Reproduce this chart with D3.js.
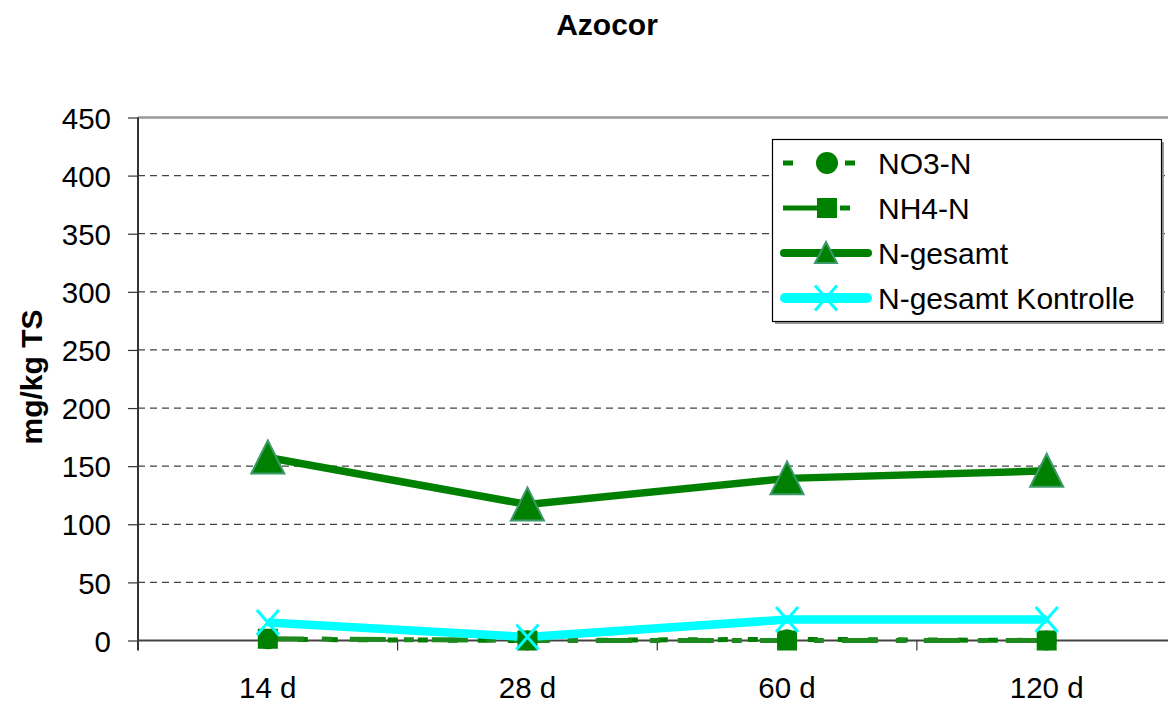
<!DOCTYPE html>
<html><head><meta charset="utf-8">
<script src="https://cdn.jsdelivr.net/npm/d3@7"></script>
<style>body{margin:0;background:#fff;} svg{display:block;font-family:"Liberation Sans",Arial,sans-serif;}</style>
</head><body>
<svg id="c" width="1168" height="704"></svg>
<script>
const categories = ["14 d", "28 d", "60 d", "120 d"];
const no3 = [1, 0, 1, 0];
const nh4 = [1.5, 0, 0, 0];
const nges = [157.5, 117, 139.5, 146];
const nkon = [15.5, 3, 18, 18];
const yTicks = [0, 50, 100, 150, 200, 250, 300, 350, 400, 450];
const seriesNames = ["NO3-N", "NH4-N", "N-gesamt", "N-gesamt Kontrolle"];

const FONT = "Liberation Sans, Arial, sans-serif";
const svg = d3.select("#c");
const pLeft = 138, pRight = 1176.5, pTop = 117.5, pBottom = 640.5;
const x = d3.scaleBand().domain(categories).range([pLeft, pRight]);
const y = d3.scaleLinear().domain([0, 450]).range([pBottom, pTop]);
const cx = d => x(d) + x.bandwidth() / 2;
const green = "#008000";
const cyan = "#00FFFF";

// gridlines
svg.append("g").selectAll("line").data(yTicks.filter(t => t > 0 && t < 450)).join("line")
  .attr("x1", pLeft).attr("x2", 1168).attr("y1", d => y(d)).attr("y2", d => y(d))
  .attr("stroke", "#444").attr("stroke-width", 1.2).attr("stroke-dasharray", "7,5");
svg.append("line").attr("x1", pLeft).attr("x2", 1168).attr("y1", y(450)).attr("y2", y(450))
  .attr("stroke", "#999").attr("stroke-width", 2.5);

// y axis
const ya = svg.append("g").attr("transform", `translate(${pLeft},0)`)
  .call(d3.axisLeft(y).tickValues(yTicks).tickSize(10).tickPadding(17));
ya.select(".domain").remove();
ya.selectAll(".tick line").attr("stroke", "#333").attr("stroke-width", 1.2);
ya.selectAll("text").attr("font-size", 29.5).attr("fill", "#000").attr("font-family", FONT).attr("dy", "0.36em");
svg.append("line").attr("x1", pLeft).attr("x2", pLeft).attr("y1", pTop).attr("y2", pBottom + 10)
  .attr("stroke", "#333").attr("stroke-width", 2);

// x axis
const xa = svg.append("g").attr("transform", `translate(0,${pBottom})`)
  .call(d3.axisBottom(x).tickSize(0));
xa.select(".domain").remove();
xa.selectAll("text").attr("font-size", 29.5).attr("fill", "#000").attr("font-family", FONT)
  .attr("y", 57).attr("dy", 0);
svg.append("line").attr("x1", pLeft).attr("x2", 1168).attr("y1", pBottom).attr("y2", pBottom)
  .attr("stroke", "#444").attr("stroke-width", 2.2);
svg.append("g").selectAll("line").data(categories.slice(1)).join("line")
  .attr("x1", d => x(d)).attr("x2", d => x(d)).attr("y1", pBottom).attr("y2", pBottom + 10)
  .attr("stroke", "#333").attr("stroke-width", 1.2);

const line = d3.line().x((d, i) => cx(categories[i])).y(d => y(d));

// NO3 + NH4 lines
svg.append("path").datum(no3).attr("d", line).attr("fill", "none").attr("stroke", green)
  .attr("stroke-width", 5).attr("stroke-dasharray", "10,20");
svg.append("path").datum(nh4).attr("d", line).attr("fill", "none").attr("stroke", "#1E8A1E")
  .attr("stroke-width", 5).attr("stroke-dasharray", "36,18,10,18");
// N-gesamt
svg.append("path").datum(nges).attr("d", line).attr("fill", "none").attr("stroke", green)
  .attr("stroke-width", 7.5);
// Kontrolle
svg.append("path").datum(nkon).attr("d", line).attr("fill", "none").attr("stroke", cyan)
  .attr("stroke-width", 8.5);

// markers
const triPath = "M0,-17L16.5,16L-16.5,16Z";
svg.append("g").selectAll("circle").data(no3).join("circle")
  .attr("cx", (d, i) => cx(categories[i])).attr("cy", d => y(d)).attr("r", 10).attr("fill", green);
svg.append("g").selectAll("rect").data(nh4).join("rect")
  .attr("x", (d, i) => cx(categories[i]) - 10).attr("y", d => y(d) - 10)
  .attr("width", 20).attr("height", 20).attr("fill", green);
svg.append("g").selectAll("path").data(nges).join("path")
  .attr("d", triPath).attr("transform", (d, i) => `translate(${cx(categories[i])},${y(d)})`)
  .attr("fill", green).attr("stroke", "#3C9A6A").attr("stroke-width", 2);
function cross(g, px, py) {
  g.append("path").attr("d", `M${px-11},${py-12.5}L${px+11},${py+12.5}M${px-11},${py+12.5}L${px+11},${py-12.5}`)
    .attr("stroke", cyan).attr("stroke-width", 3).attr("fill", "none");
}
const kg = svg.append("g");
nkon.forEach((d, i) => cross(kg, cx(categories[i]), y(d)));

// legend
const lg = svg.append("g");
lg.append("rect").attr("x", 775).attr("y", 142).attr("width", 389).attr("height", 182).attr("fill", "#999");
lg.append("rect").attr("x", 772.5).attr("y", 139.5).attr("width", 389).attr("height", 182)
  .attr("fill", "#fff").attr("stroke", "#000").attr("stroke-width", 1.2);
const ly = [163, 208, 253, 298];
const lmid = 827;
// NO3
lg.append("line").attr("x1", 783).attr("x2", 793).attr("y1", ly[0]).attr("y2", ly[0]).attr("stroke", green).attr("stroke-width", 5);
lg.append("line").attr("x1", 845).attr("x2", 855).attr("y1", ly[0]).attr("y2", ly[0]).attr("stroke", green).attr("stroke-width", 5);
lg.append("circle").attr("cx", lmid).attr("cy", ly[0]).attr("r", 11).attr("fill", green);
// NH4
lg.append("line").attr("x1", 783).attr("x2", 818).attr("y1", ly[1]).attr("y2", ly[1]).attr("stroke", green).attr("stroke-width", 5);
lg.append("line").attr("x1", 840).attr("x2", 850).attr("y1", ly[1]).attr("y2", ly[1]).attr("stroke", green).attr("stroke-width", 5);
lg.append("rect").attr("x", lmid - 10).attr("y", ly[1] - 10).attr("width", 20).attr("height", 20).attr("fill", green);
// N-gesamt
lg.append("line").attr("x1", 784).attr("x2", 868).attr("y1", ly[2]).attr("y2", ly[2])
  .attr("stroke", green).attr("stroke-width", 8).attr("stroke-linecap", "round");
lg.append("path").attr("d", "M0,-11L11,10L-11,10Z").attr("transform", `translate(${lmid - 1},${ly[2]})`)
  .attr("fill", green).attr("stroke", "#3C9A6A").attr("stroke-width", 2);
// Kontrolle
lg.append("line").attr("x1", 785).attr("x2", 867).attr("y1", ly[3]).attr("y2", ly[3])
  .attr("stroke", cyan).attr("stroke-width", 10).attr("stroke-linecap", "round");
cross(lg, lmid - 1, ly[3]);
lg.selectAll("text").data(seriesNames).join("text")
  .attr("x", 878).attr("y", (d, i) => ly[i] + 11).attr("font-size", 30).attr("fill", "#000")
  .attr("font-family", FONT).text(d => d);

// title
svg.append("text").attr("x", 607).attr("y", 35).attr("text-anchor", "middle").attr("font-family", FONT)
  .attr("font-size", 30).attr("font-weight", "bold").text("Azocor");
// y label
svg.append("text").attr("transform", "translate(42,377) rotate(-90)").attr("text-anchor", "middle")
  .attr("font-family", FONT).attr("font-size", 30).attr("font-weight", "bold").text("mg/kg TS");
</script>
</body></html>
